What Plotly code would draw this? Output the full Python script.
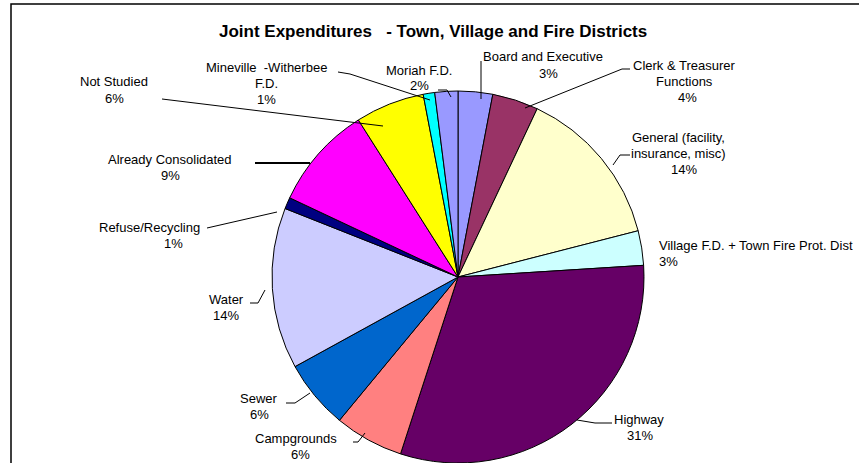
import plotly.graph_objects as go

# ---------------- data ----------------
categories = [
    "Board and Executive", "Clerk & Treasurer Functions", "General (facility, insurance, misc)",
    "Village F.D. + Town Fire Prot. Dist", "Highway", "Campgrounds", "Sewer", "Water",
    "Refuse/Recycling", "Already Consolidated", "Not Studied", "Mineville  -Witherbee F.D.",
    "Moriah F.D.",
]
values = [3, 4, 14, 3, 31, 6, 6, 14, 1, 9, 6, 1, 2]
colors = ["#9999FF", "#993366", "#FFFFCC", "#CCFFFF", "#660066", "#FF8080", "#0066CC",
          "#CCCCFF", "#000080", "#FF00FF", "#FFFF00", "#00FFFF", "#9999FF"]
title_text = "Joint Expenditures\u00a0\u00a0\u00a0- Town, Village and Fire Districts"

# ---------------- layout constants ----------------
W, H = 859, 463
FONT = "Arial, Liberation Sans, sans-serif"

def px(x):
    return x / W

def py(y):
    return 1 - y / H

# label layout: (name lines, x center px, y of first line px, align)
label_layout = {
    "Board and Executive": (["Board and Executive"], 543, 57, "center"),
    "Clerk & Treasurer Functions": (["Clerk & Treasurer", "Functions"], 684, 65, "center"),
    "General (facility, insurance, misc)": (["General (facility,", "insurance, misc)"], 678, 137, "center"),
    "Village F.D. + Town Fire Prot. Dist": (["Village F.D. + Town Fire Prot. Dist"], 657, 245, "left"),
    "Highway": (["Highway"], 639, 419, "center"),
    "Campgrounds": (["Campgrounds"], 296, 438, "center"),
    "Sewer": (["Sewer"], 259, 398, "center"),
    "Water": (["Water"], 226, 299, "center"),
    "Refuse/Recycling": (["Refuse/Recycling"], 149, 227, "center"),
    "Already Consolidated": (["Already Consolidated"], 170, 159, "center"),
    "Not Studied": (["Not Studied"], 114, 82, "center"),
    "Mineville  -Witherbee F.D.": (["Mineville\u00a0\u00a0-Witherbee", "F.D."], 266, 68, "center"),
    "Moriah F.D.": (["Moriah F.D."], 419, 70, "center"),
}
# x offset of the percentage line relative to the name center
pct_dx = {"Refuse/Recycling": 24, "Clerk & Treasurer Functions": 3, "General (facility, insurance, misc)": 6,
          "Campgrounds": 4, "Board and Executive": 5, "Highway": 1}

leader_lines = [
    [(481, 61), (481, 99)],
    [(630, 69), (622, 69), (525, 108)],
    [(630, 155), (620, 155), (613, 165)],
    [(612, 423), (595, 423), (577, 420)],
    [(353, 442), (358, 442), (365, 433)],
    [(286, 403), (295, 403), (310, 393)],
    [(250, 303), (258, 303), (265, 290)],
    [(207, 228), (277, 212)],
    [(162, 99), (383, 126)],
    [(338, 72), (350, 74), (430, 100)],
    [(438, 90), (447, 90), (451, 97)],
]
thick_lines = [
    [(255, 163), (310, 163)],
]

R = 186  # pie radius in px
CX = 458

fig = go.Figure()
fig.add_trace(go.Pie(
    labels=categories,
    values=values,
    marker=dict(colors=colors, line=dict(color="black", width=1)),
    sort=False,
    direction="clockwise",
    rotation=0,
    textinfo="none",
    hoverinfo="label+percent",
    showlegend=False,
    domain=dict(x=[px(CX - 400), px(CX + 400)], y=[0, 2 * R / H]),
))

LINE_H = 16
annotations = [dict(
    text=f"<b>{title_text}</b>", x=px(433), y=py(32), xref="paper", yref="paper",
    showarrow=False, font=dict(family=FONT, size=17, color="black"), xanchor="center", yanchor="middle",
)]
for cat, val in zip(categories, values):
    lines, cx, cy, align = label_layout[cat]
    for i, ln in enumerate(lines):
        annotations.append(dict(
            text=ln, x=px(cx), y=py(cy + i * LINE_H), xref="paper", yref="paper", showarrow=False,
            font=dict(family=FONT, size=13, color="black"),
            xanchor="left" if align == "left" else "center", yanchor="middle",
        ))
    annotations.append(dict(
        text=f"{round(val / sum(values) * 100)}%",
        x=px(cx + (0 if align == "left" else pct_dx.get(cat, 0))),
        y=py(cy + len(lines) * LINE_H), xref="paper", yref="paper", showarrow=False,
        font=dict(family=FONT, size=13, color="black"),
        xanchor="left" if align == "left" else "center", yanchor="middle",
    ))

shapes = [dict(type="rect", xref="paper", yref="paper", x0=px(11), y0=py(4), x1=px(880), y1=py(480),
               line=dict(color="black", width=1.5), fillcolor="rgba(0,0,0,0)", layer="below")]
for pts in leader_lines:
    path = "M " + " L ".join(f"{px(x)},{py(y)}" for x, y in pts)
    shapes.append(dict(type="path", xref="paper", yref="paper", path=path,
                       line=dict(color="black", width=1)))
for pts in thick_lines:
    path = "M " + " L ".join(f"{px(x)},{py(y)}" for x, y in pts)
    shapes.append(dict(type="path", xref="paper", yref="paper", path=path,
                       line=dict(color="black", width=2)))

fig.update_layout(
    width=W, height=H,
    margin=dict(l=0, r=0, t=0, b=0),
    paper_bgcolor="white", plot_bgcolor="white",
    annotations=annotations, shapes=shapes,
    font=dict(family=FONT),
)
fig.write_html("out.html")
